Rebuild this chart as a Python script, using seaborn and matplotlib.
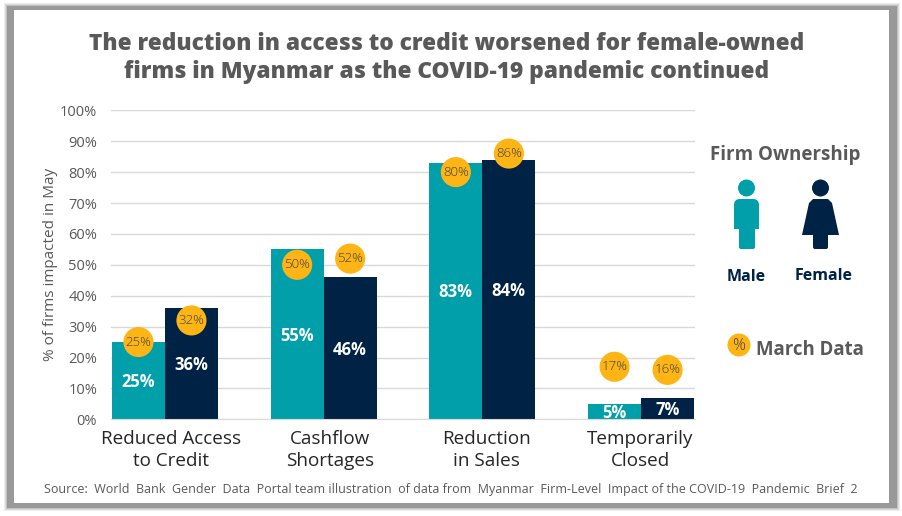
import matplotlib.pyplot as plt
import matplotlib.patches as mpatches
from matplotlib.transforms import ScaledTranslation
import seaborn as sns
import numpy as np
import pandas as pd

categories=['Reduced Access\nto Credit','Cashflow\nShortages','Reduction\nin Sales','Temporarily\nClosed']
male=[25,55,83,5]
female=[36,46,84,7]
march_male=[25,50,80,17]
march_female=[32,52,86,16]
yticks=[0,10,20,30,40,50,60,70,80,90,100]

teal='#009FAA'
navy='#002244'
gold='#FDB515'
grey='#595959'

plt.rcParams['font.family']=['Open Sans','DejaVu Sans']

df=pd.DataFrame({'cat':categories*2,
                 'owner':['Male']*4+['Female']*4,
                 'val':male+female})

fig=plt.figure(figsize=(9.03,5.16),dpi=100)

# whole picture in pixels, for the frame and the side panel
bg=plt.axes([0,0,1,1],zorder=0)
bg.set_xlim(0,903)
bg.set_ylim(516,0)
bg.axis('off')
for grow,alpha in [(3,0.15),(2,0.2),(1,0.3)]:
    bg.add_patch(mpatches.Rectangle((7-grow,6-grow),890+2*grow,502+2*grow,fc='#8c8c8c',ec='none',alpha=alpha))
bg.add_patch(mpatches.Rectangle((7,6),890,502,fc='#999999',ec='none'))
bg.add_patch(mpatches.Rectangle((14,10),875,493,fc='white',ec='none'))

ax=plt.axes([111/903,(516-419.3)/516,584/903,309/516],zorder=1)
ax.patch.set_alpha(0)
sns.barplot(data=df,x='cat',y='val',hue='owner',palette=[teal,navy],width=0.668,gap=0,
            saturation=1,legend=False,ax=ax,zorder=2)

for c in ax.containers:
    for t in ax.bar_label(c,fmt='%g%%',label_type='center',color='white',fontsize=12,fontweight='bold'):
        t.xyann=(0,-1)

# march circles sit on the middle of each bar
xm=[p.get_x()+p.get_width()/2 for p in ax.containers[0]]
xf=[p.get_x()+p.get_width()/2 for p in ax.containers[1]]
sns.scatterplot(x=xm+xf,y=march_male+march_female,s=470,color=gold,edgecolor='none',clip_on=False,zorder=3,ax=ax)
for x,v in zip(xm+xf,march_male+march_female):
    ax.text(x,v,'%d%%'%v,ha='center',va='center',fontsize=9.5,fontweight='light',color='#404040',zorder=4)

ax.set_xlim(-0.34,3.34)
ax.set_ylim(0,100)
ax.set_yticks(yticks)
ax.set_yticklabels(['%d%%'%t for t in yticks],fontsize=10.5,color=grey)
ax.tick_params(axis='y',length=0,pad=10)
ax.tick_params(axis='x',length=0,pad=8)
ax.set_xticks(range(4))
ax.set_xticklabels(categories,fontsize=13.6,color='#262626',linespacing=1.28)
# the labels are not quite under their bars
for lab,shift in zip(ax.get_xticklabels(),[6,6,4,-1]):
    lab.set_transform(lab.get_transform()+ScaledTranslation(shift/100,0,fig.dpi_scale_trans))
ax.set_xlabel('')
ax.set_ylabel('% of firms impacted in May',fontsize=11,color=grey,labelpad=1.5)
ax.grid(axis='y',color='#d9d9d9',lw=1)
ax.set_axisbelow(True)
sns.despine(ax=ax,left=True)
ax.spines['bottom'].set_color('#d9d9d9')

# title and notes on top
top=plt.axes([0,0,1,1],zorder=2)
top.set_xlim(0,903)
top.set_ylim(516,0)
top.axis('off')
top.patch.set_alpha(0)
top.text(447,58,'The reduction in access to credit worsened for female-owned\nfirms in Myanmar as the COVID-19 pandemic continued',
         ha='center',va='center',fontsize=16.3,fontweight=800,color=grey,linespacing=1.24)
top.text(451,490,'Source:  World  Bank  Gender  Data  Portal team illustration  of data from  Myanmar  Firm-Level  Impact of the COVID-19  Pandemic  Brief  2',
         ha='center',va='center',fontsize=9,color=grey)
top.text(785.5,155,'Firm Ownership',ha='center',va='center',fontsize=13.5,fontweight='bold',color=grey)
top.text(746,277,'Male',ha='center',va='center',fontsize=11.5,fontweight='bold',color=navy)
top.text(824,276,'Female',ha='center',va='center',fontsize=11.5,fontweight='bold',color=navy)
top.text(810,350,'March Data',ha='center',va='center',fontsize=13.4,fontweight='bold',color=grey)
top.add_patch(mpatches.Circle((739,345),11.5,fc=gold,ec='none'))
top.text(739,346,'%',ha='center',va='center',fontsize=11.5,fontweight='light',color='#404040')

# the two figures
top.add_patch(mpatches.Circle((746.5,188),8.5,fc=teal,ec='none'))
top.add_patch(mpatches.FancyBboxPatch((734,199),25,25,boxstyle='round,pad=0,rounding_size=6',fc=teal,ec='none'))
top.add_patch(mpatches.Rectangle((734,210),25,19,fc=teal,ec='none'))
top.add_patch(mpatches.FancyBboxPatch((739,220),16,29,boxstyle='round,pad=0,rounding_size=2',fc=teal,ec='none'))
top.add_patch(mpatches.Circle((820.5,188),8.5,fc=navy,ec='none'))
top.add_patch(mpatches.Polygon([(813,199),(828,199),(832,203),(839,235),(802,235),(809,203)],fc=navy,ec='none'))
top.add_patch(mpatches.FancyBboxPatch((813,230),15,19,boxstyle='round,pad=0,rounding_size=2',fc=navy,ec='none'))

plt.savefig('out.png',dpi=100)
